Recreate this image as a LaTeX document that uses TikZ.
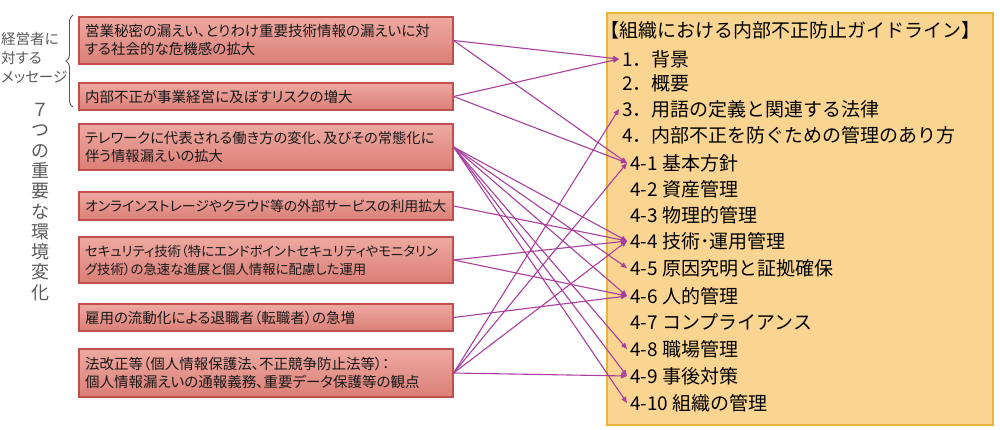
\documentclass[tikz,border=0pt]{standalone}
\usepackage{fontspec}
\usepackage{tikz}
\usetikzlibrary{arrows.meta,decorations.pathreplacing}
\newfontfamily\jpfont{Noto Sans CJK JP}
\newfontfamily\jpingust[RawFeature=+palt]{Noto Sans CJK JP}
\definecolor{cutieSus}{HTML}{EEA9A1}
\definecolor{cutieJos}{HTML}{DA7F77}
\definecolor{cutieMargine}{HTML}{C0504D}
\definecolor{ghidFond}{HTML}{FAD592}
\definecolor{ghidMargine}{HTML}{E8B43C}
\definecolor{sageata}{HTML}{A83E9D}
\definecolor{eticheta}{HTML}{595959}

\begin{document}
\begin{tikzpicture}[x=1pt, y=-1pt,
    cutie/.style={draw=cutieMargine, line width=1.2pt, top color=cutieSus, bottom color=cutieJos,
      minimum width=374pt, text width=362pt, inner xsep=6pt, inner ysep=0pt, align=left,
      font=\jpingust\fontsize{14.5}{18}\selectfont, text=black!90},
    punct/.style={anchor=west, inner xsep=3pt, inner ysep=0pt, font=\jpfont\fontsize{19}{19}\selectfont},
    leg/.style={draw=sageata, line width=1.1pt, -{Triangle[length=6pt,width=5pt]}}]
    \useasboundingbox (0,0) rectangle (1000,430);
    % Etichete stanga
    \node[anchor=west, inner sep=0pt, align=left, text=eticheta,
      font=\jpingust\fontsize{14.5}{19}\selectfont] (mesaj) at (1,58) {経営者に\\対する\\メッセージ};
    \draw[eticheta, line width=0.9pt, decorate, decoration={brace, amplitude=7pt}]
      (73,107) -- (73,15);
    \node[inner sep=0pt, align=center, text=eticheta,
      font=\jpfont\fontsize{18}{20.3}\selectfont] (mediu) at (40,202)
      {７\\つ\\の\\重\\要\\な\\環\\境\\変\\化};
    % Cutii stanga -- cele 7 schimbari
    \node[cutie, minimum height=47pt] (c1) at (266,40.5)
      {営業秘密の漏えい、とりわけ重要技術情報の漏えいに対\\する社会的な危機感の拡大};
    \node[cutie, minimum height=27pt] (c2) at (266,96.5)
      {内部不正が事業経営に及ぼすリスクの増大};
    \node[cutie, minimum height=46pt, font=\jpingust\fontsize{14.3}{18}\selectfont] (c3) at (266,147)
      {テレワークに代表される働き方の変化、及びその常態化に\\伴う情報漏えいの拡大};
    \node[cutie, minimum height=28pt, font=\jpingust\fontsize{13.9}{18}\selectfont] (c4) at (266,206)
      {オンラインストレージやクラウド等の外部サービスの利用拡大};
    \node[cutie, minimum height=46pt, font=\jpingust\fontsize{13.4}{18}\selectfont] (c5) at (266,260)
      {セキュリティ技術（特にエンドポイントセキュリティやモニタリン\\グ技術）の急速な進展と個人情報に配慮した運用};
    \node[cutie, minimum height=27pt] (c6) at (266,317.5)
      {雇用の流動化による退職者（転職者）の急増};
    \node[cutie, minimum height=48pt] (c7) at (266,373)
      {法改正等（個人情報保護法、不正競争防止法等）：\\個人情報漏えいの通報義務、重要データ保護等の観点};
    % Ghidul din dreapta
    \node[draw=ghidMargine, fill=ghidFond, line width=1.2pt, minimum width=386pt,
      minimum height=412pt, inner sep=0pt] (ghid) at (800,219) {};
    \node[punct] (titlu) at (597,30) {【組織における内部不正防止ガイドライン】};
    \node[punct] (p1) at (619,59) {1．背景};
    \node[punct] (p2) at (619,83) {2．概要};
    \node[punct] (p3) at (619,109) {3．用語の定義と関連する法律};
    \node[punct] (p4) at (619,135) {4．内部不正を防ぐための管理のあり方};
    \node[punct] (p41) at (627,163) {4-1 基本方針};
    \node[punct] (p42) at (627,189) {4-2 資産管理};
    \node[punct] (p43) at (627,215) {4-3 物理的管理};
    \node[punct] (p44) at (627,241) {4-4 技術･運用管理};
    \node[punct] (p45) at (627,268) {4-5 原因究明と証拠確保};
    \node[punct] (p46) at (627,296) {4-6 人的管理};
    \node[punct] (p47) at (627,322) {4-7 コンプライアンス};
    \node[punct] (p48) at (627,349) {4-8 職場管理};
    \node[punct] (p49) at (627,376) {4-9 事後対策};
    \node[punct] (p410) at (627,403) {4-10 組織の管理};
    % Legaturi cutie -> capitol
    \foreach \a/\b in {c1/p1, c1/p41, c2/p1, c2/p41,
        c3/p44, c3/p45, c3/p46, c3/p48, c3/p49, c3/p410,
        c4/p44, c5/p44, c5/p46, c6/p46,
        c7/p3, c7/p41, c7/p44, c7/p49} {
      \draw[leg] (\a.east) -- (\b.west);
    }
\end{tikzpicture}
\end{document}
